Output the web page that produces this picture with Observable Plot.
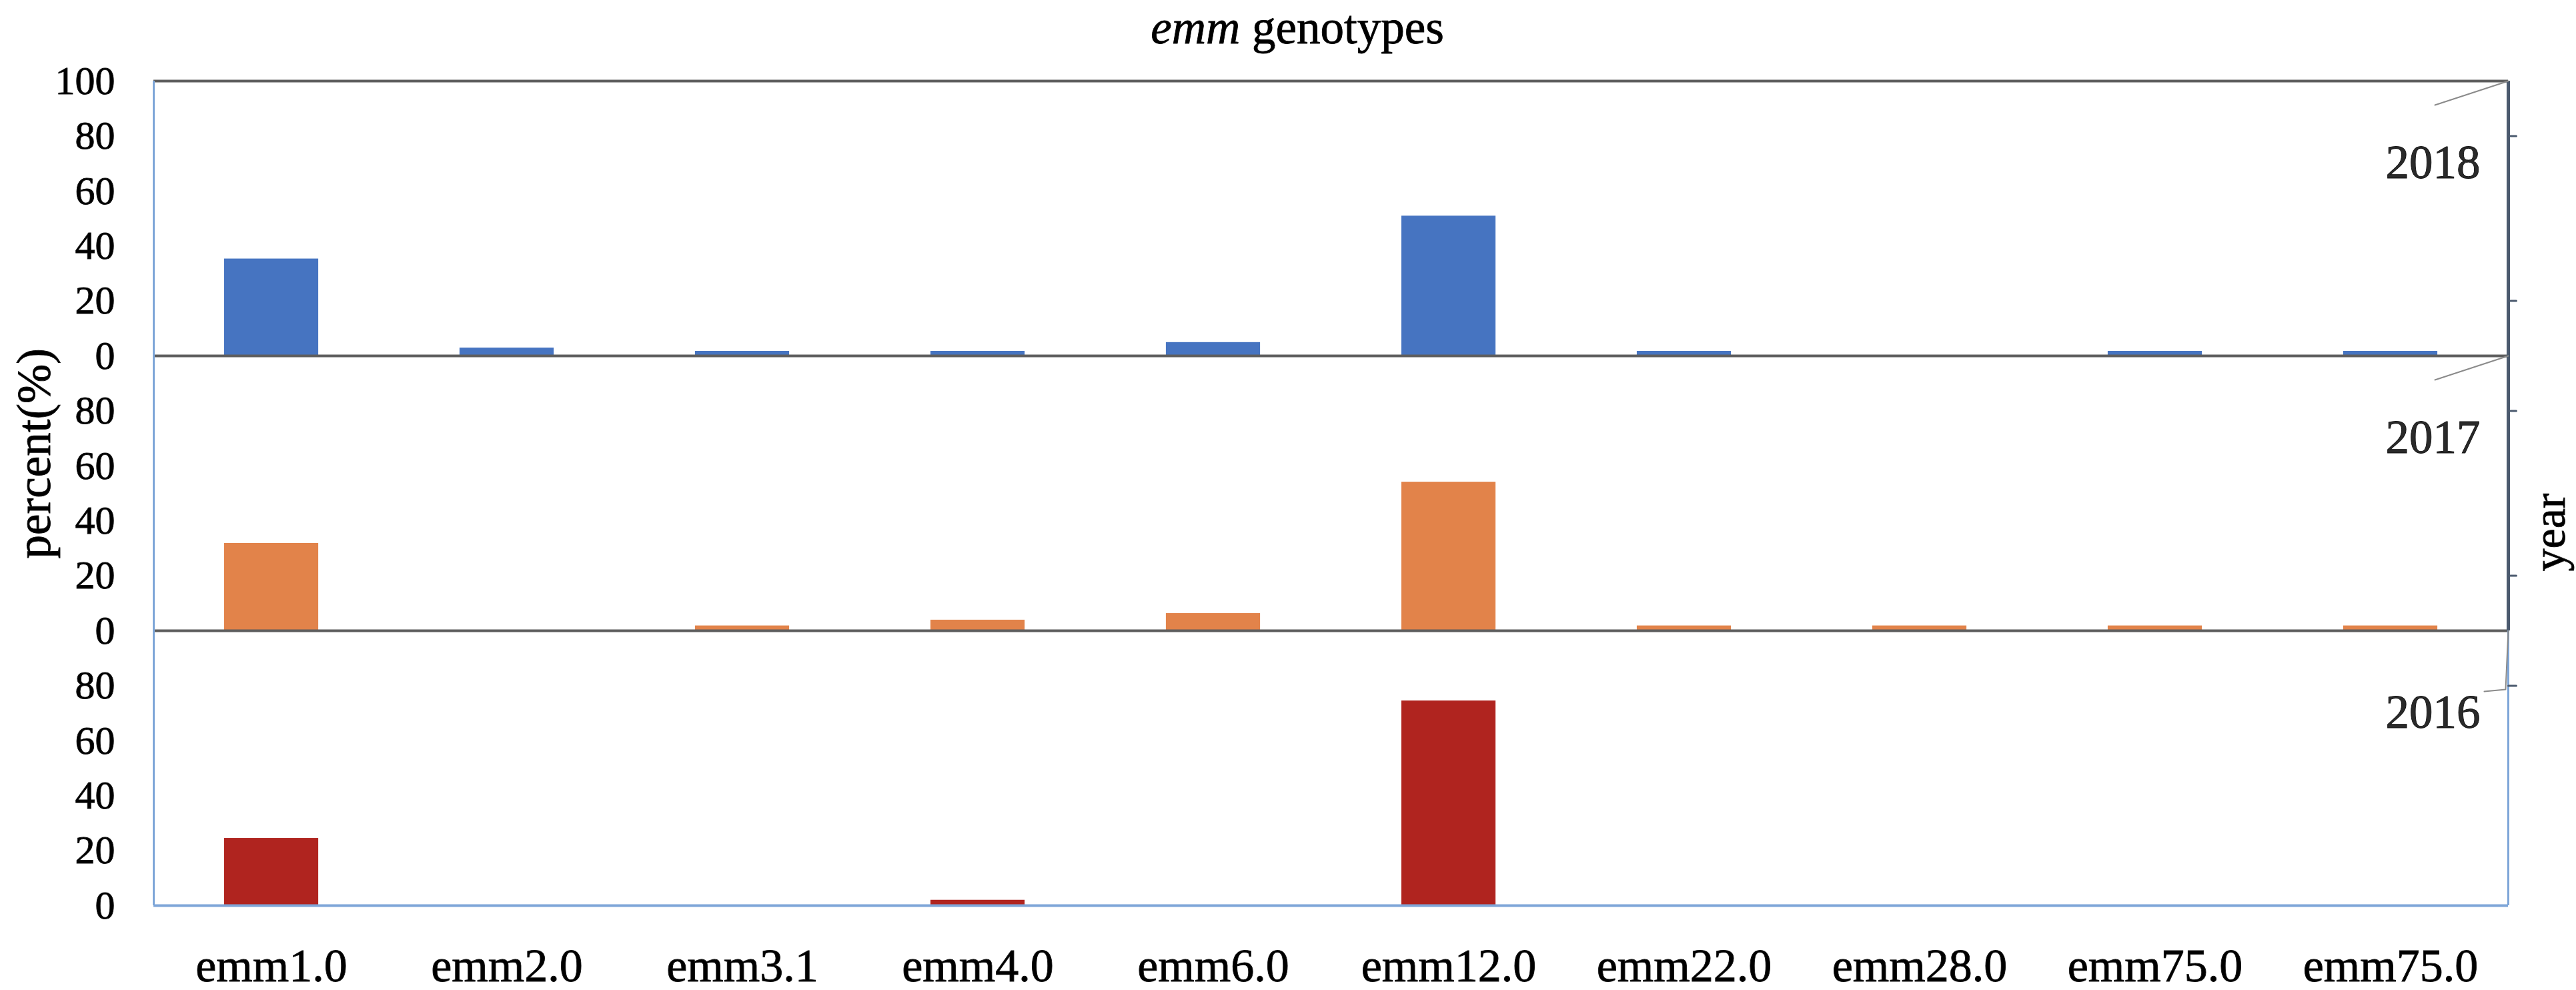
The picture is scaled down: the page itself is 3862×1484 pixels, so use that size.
<!DOCTYPE html>
<html>
<head>
<meta charset="utf-8">
<script src="https://cdn.jsdelivr.net/npm/d3@7"></script>
<script src="https://cdn.jsdelivr.net/npm/@observablehq/plot@0.6"></script>
<style>
  html, body { margin: 0; padding: 0; background: #fff; }
  #title { height: 70px; line-height: 70px; font-family: "Liberation Serif", serif; font-size: 71px; text-align: center; padding-left: 28px; color: #000; white-space: nowrap; position: relative; top: 6px; -webkit-text-stroke: 0.8px #000; }
  #chart svg { display: block; }
  #chart svg text { stroke: #111; stroke-width: 0.9px; }
</style>
</head>
<body>
<div id="title"><i>emm</i> genotypes</div>
<div id="chart"></div>
<script>
// ---- data ----
const genotypes = ["emm1.0","emm2.0","emm3.1","emm4.0","emm6.0","emm12.0","emm22.0","emm28.0","emm75.0","emm75.0"];
const years = ["2018","2017","2016"];
const pct2018 = [35.3, 2.9, 1.7, 1.7, 4.9, 50.9, 1.7, 0, 1.7, 1.7];
const pct2017 = [31.8, 0, 1.8, 3.9, 6.3, 54.1, 1.8, 1.8, 1.8, 1.8];
const pct2016 = [24.5, 0, 0, 2.0, 0, 74.5, 0, 0, 0, 0];
const yTicks = [0, 20, 40, 60, 80];
const yTop = 100;
const depthTicks = [{year:"2018", y:80},{year:"2018", y:20},{year:"2017", y:80},{year:"2017", y:20},{year:"2016", y:80}];
const barColors = ["#4674c1", "#e2834a", "#b0241f"];

// ---- build table ----
const series = {"2018": pct2018, "2017": pct2017, "2016": pct2016};
const rows = [];
for (const yr of years) series[yr].forEach((v, i) => rows.push({year: yr, i, value: v}));
const yearRows = years.map(y => ({year: y}));
const xDomain = [-0.5, genotypes.length - 0.5];
const halfBar = 0.2;

const darkLine = "#5e5e5e";
const blueLine = "#7ea6d8";
const slate = "#4b5a6e";
const fontFamily = "Liberation Serif";

const lineShape = {draw(ctx, l) { ctx.moveTo(0, 0); ctx.lineTo(0, -l); }};
const leaderShape = {draw(ctx) { ctx.moveTo(0, 0); ctx.lineTo(-110, 36); }};
const leaderShape2016 = {draw(ctx) { ctx.moveTo(0, 0); ctx.lineTo(-4, 88); ctx.lineTo(-36, 91); }};

const chart = Plot.plot({
  width: 3862,
  height: 1414,
  marginTop: 51,
  marginBottom: 127,
  marginLeft: 230,
  marginRight: 102,
  style: {fontFamily, background: "#fff", overflow: "visible"},
  x: {type: "linear", domain: xDomain, axis: null},
  y: {domain: [0, 100], axis: null},
  fy: {domain: years, padding: 0, axis: null},
  color: {domain: years, range: barColors},
  marks: [
    Plot.rect(rows, {x1: d => d.i - halfBar, x2: d => d.i + halfBar, y1: 0, y2: "value", fy: "year", fill: "year"}),
    // zero baselines
    Plot.ruleY(yearRows.filter(d => d.year !== "2016"), {y: () => 0, fy: "year", stroke: darkLine, strokeWidth: 4}),
    Plot.ruleY(yearRows.filter(d => d.year === "2016"), {y: () => 0, fy: "year", stroke: blueLine, strokeWidth: 4}),
    // top border
    Plot.ruleY(yearRows.filter(d => d.year === "2018"), {y: () => yTop, fy: "year", stroke: darkLine, strokeWidth: 4}),
    // left axis
    Plot.ruleX([xDomain[0]], {stroke: blueLine, strokeWidth: 3}),
    // right (depth) axis
    Plot.ruleX([xDomain[1]], {stroke: blueLine, strokeWidth: 3}),
    Plot.ruleX(yearRows.filter(d => d.year !== "2016"), {x: () => xDomain[1], fy: "year", stroke: slate, strokeWidth: 5}),
    Plot.vector(depthTicks, {x: () => xDomain[1], y: "y", fy: "year", length: 12, rotate: 90, anchor: "start", shape: lineShape, stroke: slate, strokeWidth: 3}),
    Plot.vector(yearRows.filter(d => d.year !== "2016"), {x: () => xDomain[1], y: () => yTop, fy: "year", length: 1, anchor: "start", shape: leaderShape, stroke: "#8a8a8a", strokeWidth: 2}),
    Plot.vector(yearRows.filter(d => d.year === "2016"), {x: () => xDomain[1], y: () => yTop, fy: "year", length: 1, anchor: "start", shape: leaderShape2016, stroke: "#8a8a8a", strokeWidth: 2}),
    Plot.text(yearRows, {fy: "year", text: "year", frameAnchor: "top-right", textAnchor: "end", dx: -42, dy: 95, fontSize: 71, fill: "#2a2a2a"}),
    // y axis
    Plot.axisY({ticks: yTicks, tickSize: 0, tickPadding: 58, fontSize: 60, label: null, fill: "#000"}),
    Plot.text(yearRows.filter(d => d.year === "2018"), {fy: "year", x: () => xDomain[0], y: () => yTop, text: () => String(yTop), textAnchor: "end", dx: -58, fontSize: 60, fill: "#000"}),
    Plot.text(yearRows.filter(d => d.year === "2017"), {fy: "year", frameAnchor: "left", text: () => "percent(%)", rotate: -90, dx: -178, dy: 98, fontSize: 71, fill: "#000"}),
    Plot.text(yearRows.filter(d => d.year === "2017"), {fy: "year", frameAnchor: "right", text: () => "year", rotate: -90, dx: 63, fontSize: 68, fill: "#000"}),
    // x axis
    Plot.axisX({ticks: d3.range(genotypes.length), tickFormat: i => genotypes[i], tickSize: 0, tickPadding: 64, fontSize: 70, label: null, fill: "#000"})
  ]
});
document.getElementById("chart").appendChild(chart);
</script>
</body>
</html>
